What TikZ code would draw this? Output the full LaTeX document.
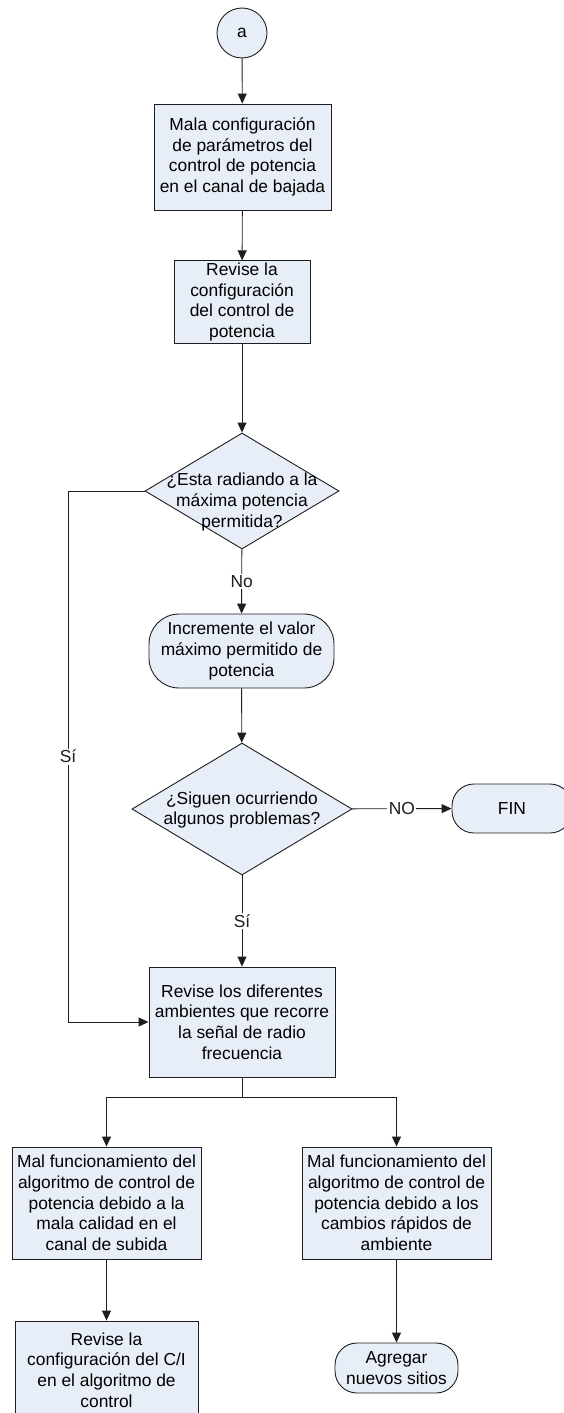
\documentclass[tikz,border=0pt]{standalone}
\usepackage{fontspec}
\setmainfont{Liberation Sans}
\usetikzlibrary{shapes.geometric,arrows.meta,positioning}
\definecolor{boxfill}{RGB}{232,238,247}
\definecolor{linegray}{RGB}{30,30,30}

\begin{document}
\begin{tikzpicture}[
    x=1pt, y=-1pt, line width=0.9pt, draw=linegray,
    font=\fontsize{17.4}{20.7}\selectfont,
    conn/.style={circle, draw=linegray, fill=boxfill, minimum size=50pt, inner sep=0pt},
    proc/.style={rectangle, draw=linegray, fill=boxfill, align=center, inner sep=2pt},
    term/.style={rectangle, draw=linegray, fill=boxfill, align=center, inner sep=2pt, rounded corners=#1},
    term/.default=22pt,
    decision/.style={diamond, draw=linegray, fill=boxfill, inner sep=0pt},
    arr/.style={-{Triangle[length=10pt,width=9pt]}, linegray},
    lbl/.style={fill=white, inner sep=1.5pt}
]
\useasboundingbox (0,0) rectangle (564,1413);

% main column
\node[conn] (a) at (242,33) {a};
\node[proc, minimum width=177pt, minimum height=106pt] (m1) at (242.5,157)
    {Mala configuración\\de parámetros del\\control de potencia\\en el canal de bajada};
\node[proc, minimum width=136pt, minimum height=82pt] (r1) at (242,302)
    {Revise la\\configuración\\del control de\\potencia};
\node[decision, minimum width=194pt, minimum height=116pt] (d1) at (242,491) {};
\node[align=center] (d1txt) at (242,502) {¿Esta radiando a la\\máxima potencia\\permitida?};
\node[term=30pt, minimum width=185pt, minimum height=74pt] (inc) at (241.5,651)
    {Incremente el valor\\máximo permitido de\\potencia};
\node[decision, minimum width=220pt, minimum height=132pt] (d2) at (242,809) {};
\node[align=center] (d2txt) at (242,810) {¿Siguen ocurriendo\\algunos problemas?};
\node[term, minimum width=120pt, minimum height=49pt] (fin) at (512,808.5) {FIN};
\node[proc, minimum width=186pt, minimum height=110pt] (r2) at (242,1022)
    {Revise los diferentes\\ambientes que recorre\\la señal de radio\\frecuencia};

% two branches
\node[proc, minimum width=189pt, minimum height=112pt] (m2) at (106.5,1203)
    {Mal funcionamiento del\\algoritmo de control de\\potencia debido a la\\mala calidad en el\\canal de subida};
\node[proc, minimum width=189pt, minimum height=112pt] (m3) at (396.5,1203)
    {Mal funcionamiento del\\algoritmo de control de\\potencia debido a los\\cambios rápidos de\\ambiente};
\node[proc, minimum width=183pt, minimum height=98pt] (r3) at (106.5,1370)
    {Revise la\\configuración del C/I\\en el algoritmo de\\control};
\node[term, minimum width=123pt, minimum height=50pt] (add) at (396.5,1368)
    {Agregar\\nuevos sitios};

\coordinate (sibend) at (68,0);
\coordinate (split) at (242,1097);

\draw[arr] (a) -- (m1);
\draw[arr] (m1) -- (r1);
\draw[arr] (r1) -- (d1);
\draw[arr] (d1) -- node[lbl] {No} (inc);
\draw[arr] (inc) -- (d2);
\draw[arr] (d2) -- node[lbl] {NO} (fin);
\draw[arr] (d2) -- node[lbl] {Sí} (r2);
\draw[arr] (d1.west) -- (d1.west -| sibend) -- node[lbl] {Sí} (r2.west -| sibend) -- (r2.west);

\draw (r2) -- (split);
\draw[arr] (split) -| (m2);
\draw[arr] (split) -| (m3);
\draw[arr] (m2) -- (r3);
\draw[arr] (m3) -- (add);
\end{tikzpicture}
\end{document}
